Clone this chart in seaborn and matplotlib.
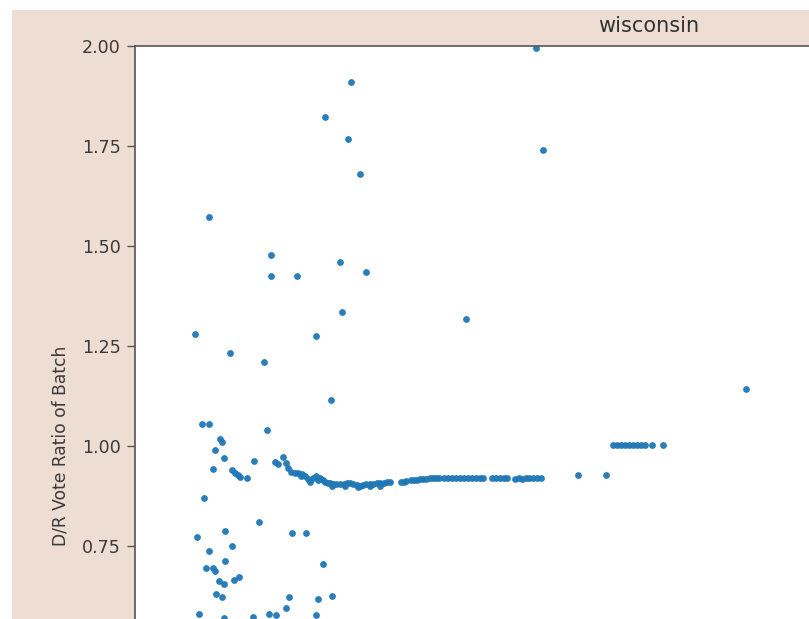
import matplotlib.pyplot as plt
import matplotlib.patches as mpatches
import seaborn as sns
import pandas as pd

# position of each batch along the count (arbitrary 0-100 scale) and its D/R ratio
# scattered early batches
early_x = [39.0, 21.0, 18.5, 20.7, 21.9, 39.7, 7.2, 13.2, 13.2, 15.8,
           19.9, 22.5, 20.1, 32.2, 5.8, 17.6, 9.2, 12.5, 19.1, 59.4,
           6.5, 7.2, 12.8, 8.3, 8.5, 7.8, 8.7, 11.6, 7.6, 9.4,
           9.7, 10.0, 10.2, 10.9,
           6.7, 12.1, 6.0, 8.8, 15.3, 16.6, 9.4, 7.2, 8.8, 18.3,
           6.9, 7.6, 7.8, 8.2, 8.7, 9.6, 10.1, 7.9, 8.5, 15.0,
           17.8, 19.2, 14.7, 6.2, 8.7, 11.5, 13.0, 13.7, 17.6]
early_y = [1.995, 1.910, 1.822, 1.768, 1.680, 1.740, 1.573, 1.477, 1.426, 1.426,
           1.459, 1.436, 1.334, 1.317, 1.280, 1.275, 1.233, 1.210, 1.114, 1.142,
           1.054, 1.054, 1.040, 1.017, 1.011, 0.989, 0.971, 0.962, 0.943, 0.939,
           0.933, 0.928, 0.923, 0.920,
           0.869, 0.810, 0.773, 0.788, 0.782, 0.782, 0.750, 0.737, 0.713, 0.704,
           0.696, 0.694, 0.688, 0.662, 0.654, 0.665, 0.672, 0.631, 0.622, 0.622,
           0.617, 0.626, 0.594, 0.581, 0.569, 0.573, 0.581, 0.577, 0.577]

# the steady band of later batches
band_x = [13.6, 13.9, 14.4, 14.7, 14.9, 15.2, 15.6, 15.9, 16.1, 16.2,
          16.5, 16.8, 17.0, 17.3, 17.6, 17.8, 18.0, 18.3, 18.5, 18.8,
          19.0, 19.2, 19.3, 19.6, 19.9, 20.3, 20.4, 20.6, 20.9, 21.2,
          21.6, 21.7, 21.9, 22.2, 22.5, 22.9, 22.9, 23.2, 23.5, 23.8,
          23.8, 24.2, 24.5, 24.8, 25.9, 26.2, 26.4, 26.8, 27.1, 27.4,
          27.7, 28.0, 28.3, 28.7, 29.0, 29.3, 29.6, 30.1, 30.4, 30.8,
          31.2, 31.6, 32.0, 32.4, 32.8, 33.2, 33.6, 33.9, 34.7, 35.1,
          35.5, 35.9, 36.2, 37.0, 37.4, 37.6, 38.0, 38.3, 38.7, 39.1,
          39.5, 43.1, 45.8,
          46.5, 46.9, 47.3, 47.7, 48.1, 48.4, 48.8, 49.2, 49.6, 50.3, 51.4]
band_y = [0.960, 0.955, 0.973, 0.957, 0.944, 0.936, 0.932, 0.933, 0.925, 0.930,
          0.925, 0.918, 0.911, 0.919, 0.925, 0.915, 0.919, 0.915, 0.911, 0.908,
          0.907, 0.900, 0.904, 0.905, 0.906, 0.905, 0.899, 0.908, 0.908, 0.905,
          0.903, 0.898, 0.901, 0.903, 0.904, 0.905, 0.899, 0.906, 0.907, 0.908,
          0.901, 0.908, 0.910, 0.911, 0.911, 0.911, 0.913, 0.914, 0.915, 0.916,
          0.917, 0.918, 0.918, 0.919, 0.919, 0.920, 0.919, 0.920, 0.920, 0.919,
          0.920, 0.920, 0.919, 0.920, 0.920, 0.919, 0.920, 0.919, 0.919, 0.920,
          0.920, 0.919, 0.919, 0.918, 0.920, 0.918, 0.919, 0.920, 0.919, 0.919,
          0.920, 0.927, 0.927,
          1.003, 1.003, 1.003, 1.003, 1.003, 1.003, 1.003, 1.003, 1.003, 1.003, 1.003]

# only the ticks that show inside the cropped view
yticks = [0.75, 1.0, 1.25, 1.5, 1.75, 2.0]

data = pd.DataFrame({'pos': early_x + band_x, 'ratio': early_y + band_y})

W, H = 809, 619
fig = plt.figure(figsize=(W / 100, H / 100), dpi=100)
fig.patch.set_facecolor('white')
# beige figure area of the screenshot (white strip on top/left)
fig.add_artist(mpatches.Rectangle((12 / W, 0), 1, 1 - 10 / H, transform=fig.transFigure,
                                  facecolor='#EEDDD2', edgecolor='none', zorder=-10))

# axes runs past the right and bottom edge of the picture
ax = fig.add_axes([135 / W, 1 - 46 / H - 800 / H, 1028 / W, 800 / H])
ax.set_facecolor('white')

sns.scatterplot(data=data, x='pos', y='ratio', ax=ax, s=24, linewidth=0,
                color='#1f77b4', alpha=0.95)

ax.set_xlim(0, 100)
ax.set_ylim(0, 2)
ax.set_yticks(yticks)
ax.set_yticklabels([f"{t:.2f}" for t in yticks])
ax.set_xticks([])
ax.set_xlabel('')
ax.set_ylabel('D/R Vote Ratio of Batch', fontsize=12.3, color='#3a3a3a', labelpad=9)
ax.set_title('wisconsin', fontsize=15, color='#333333', pad=10)
ax.tick_params(axis='y', labelsize=12.6, length=5.5, width=1.0, pad=4.5,
               colors='#555555', labelcolor='#3a3a3a')
for side in ['left', 'top']:
    ax.spines[side].set_color('#555555')
    ax.spines[side].set_linewidth(1.2)

fig.savefig('out.png', dpi=100, facecolor=fig.get_facecolor())
